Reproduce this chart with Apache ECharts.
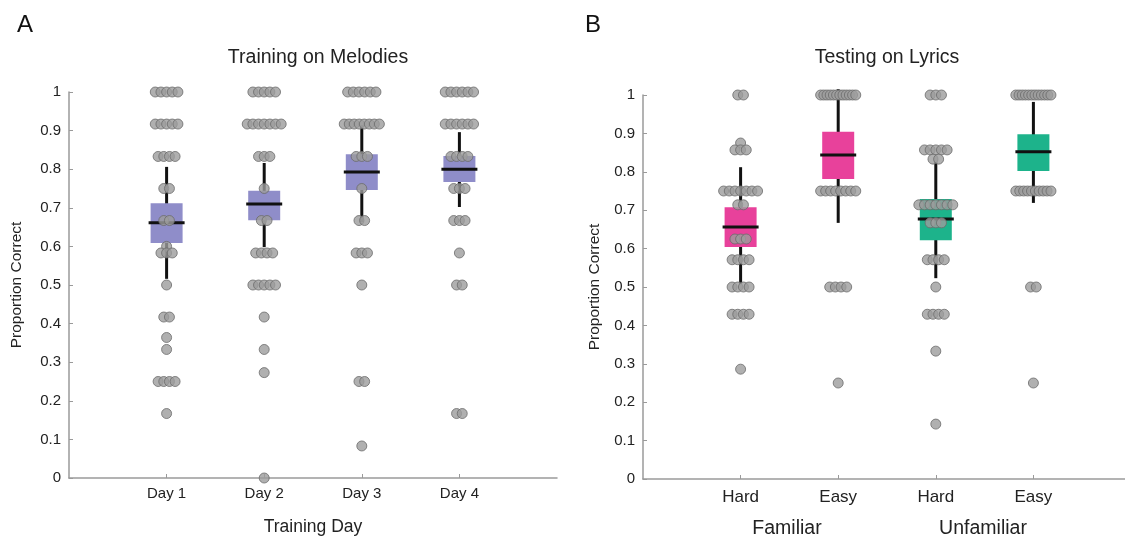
<!DOCTYPE html>
<html>
<head>
<meta charset="utf-8">
<title>Training on Melodies / Testing on Lyrics</title>
<script src="https://cdn.jsdelivr.net/npm/echarts@6/dist/echarts.min.js"></script>
<style>
  html, body { margin: 0; padding: 0; background: #fff; }
  #chart { width: 1125px; height: 539px; }
</style>
</head>
<body>
<div id="chart"></div>
<script>
// Panel A: training days
var trainDays = ['Day 1', 'Day 2', 'Day 3', 'Day 4'];
// [low whisker, q1, median, q3, high whisker]
var trainBox = [
  [0.516, 0.609, 0.661, 0.712, 0.806],
  [0.598, 0.668, 0.710, 0.744, 0.816],
  [0.663, 0.746, 0.793, 0.839, 0.914],
  [0.702, 0.767, 0.800, 0.834, 0.896]
];
// individual subjects: [proportion correct, how many]
var trainDots = [
  [[1, 5], [0.917, 5], [0.833, 4], [0.75, 2], [0.667, 2], [0.6, 1], [0.583, 3], [0.5, 1],
   [0.417, 2], [0.364, 1], [0.333, 1], [0.25, 4], [0.167, 1]],
  [[1, 5], [0.917, 7], [0.833, 3], [0.75, 1], [0.667, 2], [0.583, 4], [0.5, 5],
   [0.417, 1], [0.333, 1], [0.273, 1], [0, 1]],
  [[1, 6], [0.917, 8], [0.833, 3], [0.75, 1], [0.667, 2], [0.583, 3], [0.5, 1],
   [0.25, 2], [0.083, 1]],
  [[1, 6], [0.917, 6], [0.833, 4], [0.75, 3], [0.667, 3], [0.583, 1], [0.5, 2],
   [0.167, 2]]
];

// Panel B: testing conditions
var testConds = ['Hard', 'Easy', 'Hard', 'Easy'];
var testGroups = ['Familiar', 'Unfamiliar'];
var testBox = [
  [0.508, 0.604, 0.656, 0.708, 0.812],
  [0.667, 0.781, 0.844, 0.904, 1.015],
  [0.523, 0.622, 0.677, 0.729, 0.826],
  [0.719, 0.802, 0.852, 0.898, 0.982]
];
var testDots = [
  [[1, 2], [0.875, 1], [0.857, 3], [0.75, 7], [0.714, 2], [0.625, 3], [0.571, 4], [0.5, 4],
   [0.429, 4], [0.286, 1]],
  [[1, 12], [0.75, 8], [0.5, 4], [0.25, 1]],
  [[1, 3], [0.857, 5], [0.833, 2], [0.714, 7], [0.667, 3], [0.571, 4], [0.5, 1],
   [0.429, 4], [0.333, 1], [0.143, 1]],
  [[1, 12], [0.75, 10], [0.5, 2], [0.25, 1]]
];

var trainColors = ['#8f8dc9', '#8f8dc9', '#8f8dc9', '#8f8dc9'];
var testColors = ['#e8419b', '#e8419b', '#1db38b', '#1db38b'];

// Spread tied values side by side around the category centre
function swarm(groups) {
  var pts = [];
  groups.forEach(function (rows, i) {
    rows.forEach(function (r) {
      var n = r[1];
      var step = n > 1 ? Math.min(0.058, 0.36 / (n - 1)) : 0;
      for (var k = 0; k < n; k++) {
        pts.push([i + 1 + (k - (n - 1) / 2) * step, r[0]]);
      }
    });
  });
  return pts;
}

function boxData(boxes, colors) {
  return boxes.map(function (b, i) {
    return { value: [i + 1].concat(b), itemStyle: { color: colors[i] } };
  });
}

function renderBox(params, api) {
  var x = api.value(0);
  var lo = api.coord([x, api.value(1)]);
  var q1 = api.coord([x, api.value(2)]);
  var md = api.coord([x, api.value(3)]);
  var q3 = api.coord([x, api.value(4)]);
  var hi = api.coord([x, api.value(5)]);
  var color = api.visual('color');
  var w = 32;
  return {
    type: 'group',
    children: [
      { type: 'line', shape: { x1: lo[0], y1: lo[1], x2: hi[0], y2: hi[1] },
        style: { stroke: '#111', lineWidth: 3 } },
      { type: 'rect', shape: { x: q3[0] - w / 2, y: q3[1], width: w, height: q1[1] - q3[1] },
        style: { fill: color } },
      { type: 'line', shape: { x1: md[0] - w / 2 - 2, y1: md[1], x2: md[0] + w / 2 + 2, y2: md[1] },
        style: { stroke: '#111', lineWidth: 3 } }
    ]
  };
}

var axisGray = '#9a9a9a';
var txt = '#222';
var font = 'Liberation Sans';

function yAxisOpt(grid) {
  return {
    gridIndex: grid, type: 'value', min: 0, max: 1, interval: 0.1,
    name: 'Proportion Correct', nameLocation: 'middle', nameRotate: 90,
    nameGap: grid === 0 ? 44 : 40,
    nameTextStyle: { fontFamily: font, fontSize: 15.5, color: txt },
    axisLine: { show: true, lineStyle: { color: axisGray, width: 1.5 } },
    axisTick: { show: true, inside: true, length: 4, lineStyle: { color: axisGray } },
    axisLabel: { fontFamily: font, fontSize: 15, color: txt, margin: 8,
      formatter: function (v) { return String(+v.toFixed(1)); } },
    splitLine: { show: false }
  };
}

function xAxisOpt(grid, names) {
  return {
    gridIndex: grid, type: 'value', min: 0, max: 5, interval: 1,
    axisLine: { show: true, lineStyle: { color: axisGray, width: 1.5 } },
    axisTick: { show: true, inside: true, length: 4, customValues: [1, 2, 3, 4],
      lineStyle: { color: axisGray } },
    axisLabel: { fontFamily: font, fontSize: grid === 0 ? 15 : 17, color: txt,
      margin: grid === 0 ? 8 : 10, customValues: [1, 2, 3, 4],
      formatter: function (v) { return names[v - 1] || ''; } },
    splitLine: { show: false }
  };
}

var chart = echarts.init(document.getElementById('chart'));

var xTrain = xAxisOpt(0, trainDays);
xTrain.name = 'Training Day';
xTrain.nameLocation = 'middle';
xTrain.nameGap = 40;
xTrain.nameTextStyle = { fontFamily: font, fontSize: 17.5, color: txt };

var dotStyle = { color: '#9c9c9c', borderColor: '#6c6c6c', borderWidth: 1 };

chart.setOption({
  animation: false,
  backgroundColor: '#fff',
  title: [
    { text: 'A', left: 12, top: 8, textStyle: { fontFamily: font, fontSize: 24, fontWeight: 'normal', color: '#111' } },
    { text: 'B', left: 580, top: 8, textStyle: { fontFamily: font, fontSize: 24, fontWeight: 'normal', color: '#111' } },
    { text: 'Training on Melodies', left: 313, top: 43, textAlign: 'center',
      textStyle: { fontFamily: font, fontSize: 19.5, fontWeight: 'normal', color: txt } },
    { text: 'Testing on Lyrics', left: 882, top: 43, textAlign: 'center',
      textStyle: { fontFamily: font, fontSize: 19.5, fontWeight: 'normal', color: txt } }
  ],
  grid: [
    { left: 69, top: 92, width: 488, height: 386, outerBoundsMode: 'none' },
    { left: 643, top: 95, width: 488, height: 384, outerBoundsMode: 'none' }
  ],
  xAxis: [xTrain, xAxisOpt(1, testConds)],
  yAxis: [yAxisOpt(0), yAxisOpt(1)],
  graphic: [
    { type: 'text', x: 787, y: 529, style: { text: testGroups[0], font: '19.5px ' + font, fill: txt,
      align: 'center', verticalAlign: 'middle' } },
    { type: 'text', x: 983, y: 529, style: { text: testGroups[1], font: '19.5px ' + font, fill: txt,
      align: 'center', verticalAlign: 'middle' } }
  ],
  series: [
    { type: 'custom', xAxisIndex: 0, yAxisIndex: 0, z: 2, renderItem: renderBox,
      encode: { x: 0, y: [1, 2, 3, 4, 5] }, data: boxData(trainBox, trainColors) },
    { type: 'custom', xAxisIndex: 1, yAxisIndex: 1, z: 2, renderItem: renderBox,
      encode: { x: 0, y: [1, 2, 3, 4, 5] }, data: boxData(testBox, testColors) },
    { type: 'scatter', xAxisIndex: 0, yAxisIndex: 0, z: 3, symbolSize: 10,
      itemStyle: dotStyle, data: swarm(trainDots) },
    { type: 'scatter', xAxisIndex: 1, yAxisIndex: 1, z: 3, symbolSize: 10,
      itemStyle: dotStyle, data: swarm(testDots) }
  ]
});
</script>
</body>
</html>
